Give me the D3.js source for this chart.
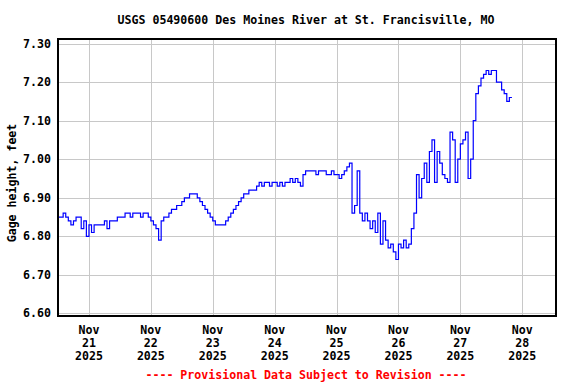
<!DOCTYPE html>
<html>
<head>
<meta charset="utf-8">
<script src="https://cdn.jsdelivr.net/npm/d3@7"></script>
<style>
  body { margin: 0; background: #fff; }
  text { font-family: "DejaVu Sans Mono", monospace; font-weight: bold; font-size: 11.6px; }
</style>
</head>
<body>
<svg id="chart" width="576" height="384"></svg>
<script>
// --- DATA: hourly gage height (feet) ---
const nov20 = [6.85, 6.85, 6.86, 6.85, 6.84, 6.83, 6.84, 6.85, 6.85, 6.82, 6.84, 6.80]; // from 12:00
const nov21 = [6.83, 6.81, 6.83, 6.83, 6.83, 6.83, 6.84, 6.82, 6.84, 6.84, 6.84, 6.85,
               6.85, 6.85, 6.86, 6.86, 6.85, 6.86, 6.86, 6.86, 6.85, 6.86, 6.86, 6.85];
const nov22 = [6.84, 6.83, 6.82, 6.79, 6.84, 6.85, 6.85, 6.86, 6.87, 6.87, 6.88, 6.88,
               6.89, 6.90, 6.90, 6.91, 6.91, 6.91, 6.90, 6.89, 6.88, 6.87, 6.86, 6.85];
const nov23 = [6.84, 6.83, 6.83, 6.83, 6.83, 6.84, 6.85, 6.86, 6.87, 6.88, 6.89, 6.90,
               6.91, 6.91, 6.92, 6.92, 6.92, 6.93, 6.94, 6.93, 6.94, 6.94, 6.93, 6.94];
const nov24 = [6.94, 6.93, 6.94, 6.93, 6.94, 6.94, 6.95, 6.94, 6.95, 6.94, 6.93, 6.96,
               6.97, 6.97, 6.97, 6.97, 6.96, 6.97, 6.97, 6.97, 6.96, 6.96, 6.97, 6.96];
const nov25 = [6.96, 6.95, 6.96, 6.97, 6.98, 6.99, 6.86, 6.88, 6.97, 6.86, 6.84, 6.86,
               6.84, 6.82, 6.84, 6.81, 6.86, 6.78, 6.84, 6.79, 6.77, 6.78, 6.76, 6.74];
const nov26 = [6.78, 6.77, 6.79, 6.77, 6.78, 6.82, 6.86, 6.96, 6.90, 6.95, 6.99, 6.94,
               7.02, 7.05, 6.94, 7.02, 6.99, 6.96, 6.95, 6.94, 7.07, 7.05, 6.94, 7.00];
const nov27 = [7.04, 7.05, 7.07, 6.95, 7.00, 7.10, 7.17, 7.19, 7.21, 7.22, 7.23, 7.22,
               7.23, 7.23, 7.20, 7.20, 7.18, 7.17, 7.15, 7.16, 7.16];

const dayArrays = [nov20, nov21, nov22, nov23, nov24, nov25, nov26, nov27];
const tickDays = [21, 22, 23, 24, 25, 26, 27, 28];
const yTicks = [6.60, 6.70, 6.80, 6.90, 7.00, 7.10, 7.20, 7.30];

const title = "USGS 05490600 Des Moines River at St. Francisville, MO";
const yLabel = "Gage height, feet";
const footer = "---- Provisional Data Subject to Revision ----";

// build the time series
const series = [];
dayArrays.forEach((vals, i) => {
    const firstHour = i === 0 ? 12 : 0;
    vals.forEach((v, j) => {
        series.push({ date: new Date(2025, 10, 20 + i, firstHour + j), value: v });
    });
});

// --- LAYOUT ---
const svg = d3.select("#chart");
const plot = { left: 58, right: 556, top: 39, bottom: 316 };

const x = d3.scaleTime()
    .domain([new Date(2025, 10, 20, 12), new Date(2025, 10, 28, 13, 5)])
    .range([plot.left, plot.right]);

const y = d3.scaleLinear()
    .domain([6.5935, 7.3117])
    .range([plot.bottom, plot.top]);

// grid
const grid = svg.append("g").attr("stroke", "#c8c8c8").attr("stroke-width", 1);
grid.selectAll("line.v")
    .data(tickDays)
    .join("line")
    .attr("x1", d => Math.round(x(new Date(2025, 10, d))) + 0.5)
    .attr("x2", d => Math.round(x(new Date(2025, 10, d))) + 0.5)
    .attr("y1", plot.top)
    .attr("y2", plot.bottom);
grid.selectAll("line.h")
    .data(yTicks)
    .join("line")
    .attr("x1", plot.left)
    .attr("x2", plot.right)
    .attr("y1", d => Math.round(y(d)) + 0.5)
    .attr("y2", d => Math.round(y(d)) + 0.5);

// data line
const line = d3.line()
    .x(d => x(d.date))
    .y(d => y(d.value))
    .curve(d3.curveStepAfter);

svg.append("path")
    .datum(series)
    .attr("fill", "none")
    .attr("stroke", "#0000ff")
    .attr("stroke-width", 1.2)
    .attr("d", line);

// frame
svg.append("rect")
    .attr("x", plot.left)
    .attr("y", plot.top)
    .attr("width", plot.right - plot.left)
    .attr("height", plot.bottom - plot.top)
    .attr("fill", "none")
    .attr("stroke", "#000")
    .attr("stroke-width", 2);

// y tick labels
svg.append("g").selectAll("text")
    .data(yTicks)
    .join("text")
    .attr("x", 51)
    .attr("y", d => y(d) + 4)
    .attr("text-anchor", "end")
    .text(d => d.toFixed(2));

// x tick labels (three lines)
const xl = svg.append("g").selectAll("text")
    .data(tickDays)
    .join("text")
    .attr("text-anchor", "middle")
    .attr("x", d => x(new Date(2025, 10, d)));
xl.append("tspan").attr("y", 334).text("Nov");
xl.append("tspan").attr("x", d => x(new Date(2025, 10, d))).attr("y", 347).text(d => d);
xl.append("tspan").attr("x", d => x(new Date(2025, 10, d))).attr("y", 360).text("2025");

// title, axis label, footer
svg.append("text")
    .attr("x", 306).attr("y", 24)
    .attr("text-anchor", "middle")
    .text(title);

svg.append("text")
    .attr("transform", "translate(16,183) rotate(-90)")
    .attr("text-anchor", "middle")
    .text(yLabel);

svg.append("text")
    .attr("x", 306).attr("y", 379)
    .attr("text-anchor", "middle")
    .attr("fill", "#ff0000")
    .text(footer);
</script>
</body>
</html>
